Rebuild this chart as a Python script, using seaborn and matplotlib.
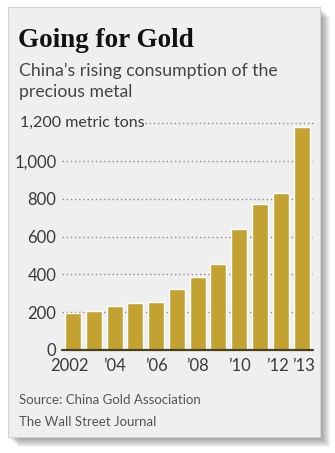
import matplotlib
matplotlib.use("Agg")
import matplotlib.pyplot as plt
import matplotlib.transforms as mtransforms
import seaborn as sns
import pandas as pd
from matplotlib.patches import Rectangle

# ---- data ----
years = ["2002", "2003", "2004", "2005", "2006", "2007",
         "2008", "2009", "2010", "2011", "2012", "2013"]
tons = [197, 204, 234, 248, 255, 322, 388, 453, 638, 770, 831, 1177]
x_tick_labels = ["2002", "", "\u201904", "", "\u201906", "", "\u201908", "",
                 "\u201910", "", "\u201912", "\u201913"]
y_ticks = [0, 200, 400, 600, 800, 1000, 1200]
y_tick_labels = ["0", "200", "400", "600", "800", "1,000", ""]
unit_label = "1,200 metric tons"
title = "Going for Gold"
subtitle = ["China\u2019s rising consumption of the", "precious metal"]
source = ["Source: China Gold Association", "The Wall Street Journal"]

sns.set_theme(style="white")
SANS = ['Lato', 'Open Sans', 'DejaVu Sans']
plt.rcParams['font.family'] = SANS

W, H = 335, 453
fig = plt.figure(figsize=(W / 100, H / 100), dpi=100)
fig.patch.set_facecolor('white')


def fx(x):
    return x / W


def fy(y):
    return 1 - y / H


# panel shadow
for k in range(1, 11):
    fig.patches.append(Rectangle((fx(8 + k), fy(437 + k)), fx(312), (430) / H,
                                 transform=fig.transFigure, facecolor='black',
                                 edgecolor='none', alpha=0.045, zorder=0))
# panel
fig.patches.append(Rectangle((fx(8), fy(437)), fx(312), 430 / H,
                             transform=fig.transFigure, facecolor='#efefef',
                             edgecolor='#d2d2d2', lw=0.8, zorder=1))

ax = fig.add_axes([fx(62), fy(350), 251 / W, 227 / H])
ax.set_facecolor('none')
ax.set_zorder(2)

df = pd.DataFrame({"year": years, "tons": tons})
sns.barplot(data=df, x="year", y="tons", order=years, color='#c3a232',
            saturation=1, width=0.77, ax=ax, zorder=2)

ax.set_xlim(-0.53, 11.55)
ax.set_ylim(0, 1200)

for v in y_ticks[1:-1]:
    ax.axhline(v, color='#8a8a8a', lw=1.0, ls=(0, (1, 2)), zorder=1)
ax.axhline(1200, xmin=0.33, xmax=1, color='#8a8a8a', lw=1.0, ls=(0, (1, 2)),
           zorder=1, clip_on=False)
ax.axhline(0, color='#4a4020', lw=1.6, zorder=3, clip_on=False)

for s in ax.spines.values():
    s.set_visible(False)

ax.set_yticks(y_ticks)
ax.set_yticklabels(y_tick_labels)
ax.set_xticks(range(len(years)))
ax.set_xticklabels(x_tick_labels)
ax.tick_params(axis='both', length=0, labelsize=12, labelcolor='#3a3a3a')
ax.tick_params(axis='y', pad=4)
ax.tick_params(axis='x', pad=6)
ax.set_xlabel("")
ax.set_ylabel("")

# nudge crowded x labels apart
shifts = {0: -4, 10: -3, 11: 2}
for i, lab in enumerate(ax.get_xticklabels()):
    if i in shifts:
        lab.set_transform(lab.get_transform() + mtransforms.ScaledTranslation(
            shifts[i] / 100, 0, fig.dpi_scale_trans))

ax.text((20 - 62) / 251, 1200, unit_label, transform=ax.get_yaxis_transform(),
        ha='left', va='center', fontsize=11.5, color='#3a3a3a', family=SANS)

fig.text(fx(18), fy(47), title, ha='left', va='baseline', fontsize=19.5,
         fontweight='bold', color='#111111', family=['Liberation Serif'])
fig.text(fx(19), fy(76), subtitle[0], ha='left', va='baseline', fontsize=12.7,
         color='#444444', family=SANS)
fig.text(fx(19), fy(97), subtitle[1], ha='left', va='baseline', fontsize=12.7,
         color='#444444', family=SANS)
fig.text(fx(19), fy(404), source[0], ha='left', va='baseline', fontsize=9.5,
         color='#555555', family=SANS)
fig.text(fx(19), fy(426), source[1], ha='left', va='baseline', fontsize=9.5,
         color='#555555', family=SANS)

fig.savefig("out.png", dpi=100, facecolor='white')
